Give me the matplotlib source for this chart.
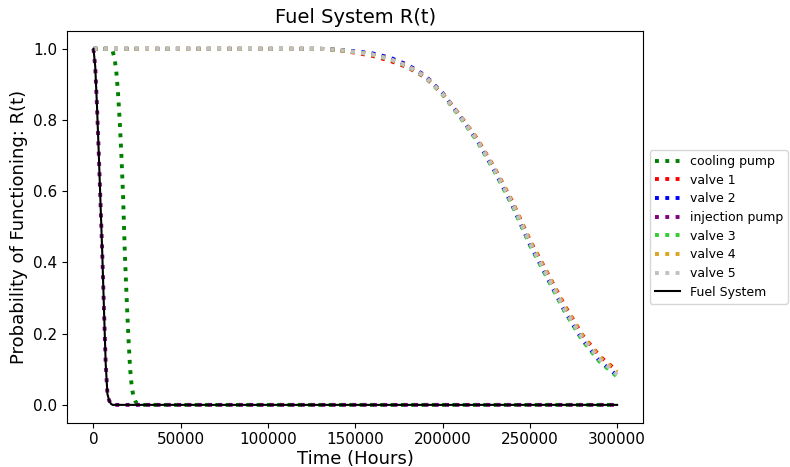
import matplotlib
matplotlib.use("Agg")
import matplotlib.pyplot as plt

# time grids (hours) for each component
t_injection = [0, 1000, 2000, 3000, 4000, 5000, 6000, 7000, 8000, 9000, 10000, 11000, 300000]
t_cooling = [0, 10000, 11000, 12000, 13000, 14000, 15000, 16000, 17000, 18000,
             19000, 20000, 21000, 22000, 23000, 24000, 25000, 26000, 300000]
t_valve = [0, 130000, 140000, 150000, 160000, 170000, 180000, 190000, 200000, 210000,
           220000, 230000, 240000, 250000, 260000, 270000, 280000, 290000, 300000]

# reliability values R(t)
r_injection = [1.0, 0.95, 0.84, 0.71, 0.57, 0.43, 0.27, 0.115, 0.03, 0.012, 0.003, 0.0, 0.0]
r_cooling = [1.0, 1.0, 0.993, 0.975, 0.94, 0.88, 0.80, 0.70, 0.58, 0.42,
             0.30, 0.19, 0.10, 0.047, 0.022, 0.01, 0.003, 0.0, 0.0]
r_valve1 = [1.0, 1.0, 0.996, 0.989, 0.980, 0.966, 0.948, 0.920, 0.874, 0.813,
            0.746, 0.663, 0.571, 0.463, 0.371, 0.279, 0.197, 0.137, 0.095]
r_valve2 = [1.0, 1.0, 0.998, 0.993, 0.987, 0.975, 0.955, 0.925, 0.876, 0.811,
            0.741, 0.655, 0.560, 0.450, 0.357, 0.263, 0.183, 0.123, 0.082]
r_valve3 = [1.0, 1.0, 0.997, 0.991, 0.983, 0.970, 0.950, 0.921, 0.871, 0.808,
            0.739, 0.654, 0.560, 0.449, 0.356, 0.262, 0.182, 0.121, 0.079]
r_valve4 = [1.0, 1.0, 0.997, 0.991, 0.984, 0.971, 0.952, 0.923, 0.875, 0.813,
            0.745, 0.662, 0.570, 0.461, 0.369, 0.276, 0.195, 0.134, 0.092]
r_valve5 = [1.0, 1.0, 0.997, 0.991, 0.984, 0.971, 0.951, 0.922, 0.873, 0.811,
            0.742, 0.658, 0.565, 0.455, 0.362, 0.268, 0.188, 0.128, 0.085]
r_system = [1.0, 0.95, 0.84, 0.71, 0.57, 0.43, 0.27, 0.115, 0.03, 0.012, 0.003, 0.0, 0.0]

fig = plt.figure(figsize=(7.9, 4.67), dpi=100)
ax = fig.add_axes([0.0852, 0.0949, 0.7291, 0.8387])

lw = 2.8
ax.plot(t_cooling, r_cooling, ":", color="green", lw=lw, label="cooling pump")
ax.plot(t_valve, r_valve1, ":", color="red", lw=lw, label="valve 1")
ax.plot(t_valve, r_valve2, ":", color="blue", lw=lw, label="valve 2")
ax.plot(t_injection, r_injection, ":", color="purple", lw=lw, label="injection pump")
ax.plot(t_valve, r_valve3, ":", color="limegreen", lw=lw, label="valve 3")
ax.plot(t_valve, r_valve4, ":", color="goldenrod", lw=lw, label="valve 4")
ax.plot(t_valve, r_valve5, ":", color="silver", lw=lw, label="valve 5")
ax.plot(t_injection, r_system, "-", color="black", lw=1.5, label="Fuel System")

ax.set_title("Fuel System R(t)", fontsize=14)
ax.set_xlabel("Time (Hours)", fontsize=13, labelpad=2)
ax.set_ylabel("Probability of Functioning: R(t)", fontsize=13)
ax.tick_params(labelsize=11)
ax.legend(loc="center left", bbox_to_anchor=(1, 0.5), fontsize=9, labelspacing=0.45)

fig.savefig("out.png", dpi=100)
